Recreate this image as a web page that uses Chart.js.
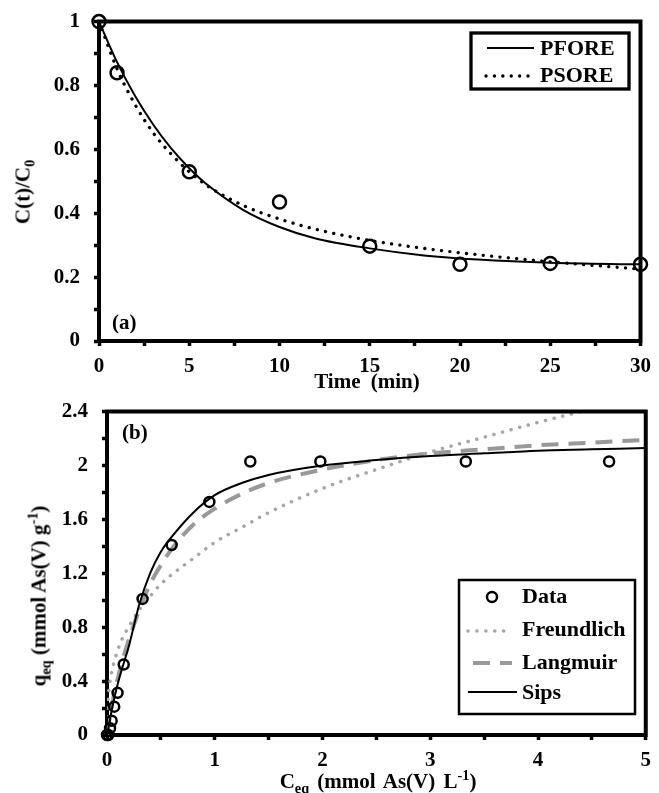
<!DOCTYPE html>
<html>
<head>
<meta charset="utf-8">
<script src="https://cdn.jsdelivr.net/npm/chart.js@4.4.1/dist/chart.umd.min.js"></script>
<style>
  html, body { margin: 0; padding: 0; background: #fff; }
  body { width: 659px; height: 793px; position: relative; overflow: hidden;
         font-family: "Liberation Serif", "Times New Roman", serif; font-weight: bold; }
  canvas { position: absolute; left: 0; }
  #chartA { top: -5px; }
  #chartB { top: 385px; }
  .ttl { position: absolute; font-size: 21px; line-height: 21px; white-space: nowrap; color: #000;
         transform: translate(-50%, -50%); }
  .rot { transform: translate(-50%, -50%) rotate(-90deg); }
  sub, sup { font-size: 0.68em; line-height: 0; }
</style>
</head>
<body>
<canvas id="chartA" width="659" height="405"></canvas>
<canvas id="chartB" width="659" height="408"></canvas>

<div class="ttl rot" style="left:23px; top:192px;">C(t)/C<sub>0</sub></div>
<div class="ttl" style="left:367px; top:381px; word-spacing:5px;">Time (min)</div>
<div class="ttl rot" style="left:39px; top:596px;">q<sub>eq</sub> (mmol As(V) g<sup>-1</sup>)</div>
<div class="ttl" style="left:378px; top:781px; word-spacing:3px;">C<sub>eq</sub> (mmol As(V) L<sup>-1</sup>)</div>

<script>
// ---- panel (a): kinetics ----
const timeMin = [0, 1, 5, 10, 15, 20, 25, 30];
const ctRatio = [1.0, 0.84, 0.53, 0.435, 0.297, 0.24, 0.243, 0.24];

const pforeTime = [0, 1, 2, 3, 4, 5, 6, 8, 10, 12, 15, 18, 21, 25, 30];
const pforeRatio = [1.0, 0.873, 0.767, 0.678, 0.603, 0.541, 0.489, 0.41, 0.357, 0.321, 0.29, 0.268, 0.255, 0.245, 0.24];

const psoreTime = [0, 1, 2, 3, 4, 5, 6, 8, 10, 12, 15, 18, 21, 25, 30];
const psoreRatio = [1.0, 0.852, 0.74, 0.652, 0.585, 0.53, 0.486, 0.424, 0.382, 0.35, 0.315, 0.29, 0.27, 0.248, 0.225];

// ---- panel (b): isotherm ----
const ceq = [0, 0.005, 0.012, 0.028, 0.043, 0.067, 0.098, 0.155, 0.33, 0.6, 0.95, 1.33, 1.98, 3.33, 4.66];
const qeq = [0, 0, 0, 0.05, 0.106, 0.21, 0.313, 0.523, 1.01, 1.41, 1.73, 2.03, 2.03, 2.03, 2.03];

const freuC = [0, 0.002, 0.005, 0.01, 0.02, 0.05, 0.1, 0.15, 0.2, 0.3, 0.4, 0.5, 0.6, 0.8, 1.0, 1.25, 1.5, 2.0, 2.5, 3.0, 3.5, 4.0, 4.5, 5.0];
const freuQ = [0, 0.16, 0.22, 0.28, 0.35, 0.49, 0.63, 0.73, 0.8, 0.93, 1.03, 1.12, 1.19, 1.31, 1.43, 1.54, 1.65, 1.83, 1.97, 2.1, 2.21, 2.32, 2.42, 2.52];

const langC = [0, 0.02, 0.05, 0.1, 0.15, 0.2, 0.3, 0.4, 0.5, 0.6, 0.8, 1.0, 1.25, 1.5, 2.0, 2.5, 3.0, 3.5, 4.0, 4.5, 5.0];
const langQ = [0, 0.1, 0.24, 0.42, 0.57, 0.7, 0.93, 1.12, 1.26, 1.38, 1.56, 1.68, 1.79, 1.87, 1.97, 2.04, 2.09, 2.12, 2.15, 2.17, 2.19];

const sipsC = [0, 0.02, 0.05, 0.1, 0.15, 0.2, 0.3, 0.4, 0.5, 0.6, 0.8, 1.0, 1.25, 1.5, 2.0, 2.5, 3.0, 3.5, 4.0, 4.5, 5.0];
const sipsQ = [0, 0.08, 0.21, 0.38, 0.52, 0.65, 0.97, 1.2, 1.36, 1.47, 1.65, 1.78, 1.87, 1.93, 2.0, 2.04, 2.07, 2.09, 2.11, 2.12, 2.13];

const pts = (xs, ys) => xs.map((x, i) => ({ x: x, y: ys[i] }));

const tickFont = { family: 'Liberation Serif', size: 21, weight: 'bold' };

// frame, panel letter and boxed legend
const boxLegend = {
    id: 'boxLegend',
    afterDraw(chart, args, opts) {
        const ctx = chart.ctx;
        const a = chart.chartArea;
        ctx.save();
        ctx.strokeStyle = '#000';
        ctx.lineWidth = 4;
        ctx.beginPath();
        ctx.moveTo(a.left - 2, a.top);
        ctx.lineTo(a.right, a.top);
        ctx.lineTo(a.right, a.bottom + 2);
        ctx.stroke();

        ctx.fillStyle = '#000';
        ctx.font = 'bold 21px "Liberation Serif"';
        ctx.textBaseline = 'alphabetic';
        ctx.fillText(opts.panel, opts.panelX, opts.panelY);

        ctx.lineWidth = opts.boxLine;
        ctx.strokeRect(opts.box[0], opts.box[1], opts.box[2], opts.box[3]);

        ctx.font = 'bold 22px "Liberation Serif"';
        opts.items.forEach(it => {
            const ds = chart.data.datasets[it.ds];
            ctx.save();
            if (it.marker) {
                ctx.lineWidth = ds.pointBorderWidth;
                ctx.strokeStyle = ds.pointBorderColor;
                ctx.beginPath();
                ctx.arc((it.x1 + it.x2) / 2, it.y, ds.pointRadius, 0, Math.PI * 2);
                ctx.stroke();
            } else {
                ctx.lineWidth = ds.borderWidth;
                ctx.strokeStyle = ds.borderColor;
                ctx.lineCap = ds.borderCapStyle || 'butt';
                ctx.setLineDash(ds.borderDash || []);
                ctx.beginPath();
                ctx.moveTo(it.x1, it.y);
                ctx.lineTo(it.x2, it.y);
                ctx.stroke();
            }
            ctx.restore();
            ctx.fillText(ds.label, it.tx, it.ty);
        });
        ctx.restore();
    }
};

function axis(min, max, step, every, w, h, pad) {
    return {
        type: 'linear', min: min, max: max,
        afterFit: s => { if (w) s.width = w; if (h) s.height = h; },
        border: { display: true, color: '#000', width: 4 },
        grid: { display: true, drawOnChartArea: false, drawTicks: true, tickLength: 5, tickWidth: 3.5, tickColor: '#000' },
        ticks: {
            stepSize: step, autoSkip: false, maxRotation: 0, padding: pad,
            color: '#000', font: tickFont,
            callback: v => {
                const k = Math.round(v / step);
                return k % every === 0 ? String(+v.toFixed(2)) : '';
            }
        }
    };
}

const configA = {
    type: 'scatter',
    data: {
        datasets: [{
            label: 'Data',
            data: pts(timeMin, ctRatio),
            pointRadius: 6.5, pointBorderWidth: 2.5,
            pointBorderColor: '#000', pointBackgroundColor: 'rgba(255,255,255,0)',
            clip: false, order: 0
        }, {
            label: 'PFORE',
            data: pts(pforeTime, pforeRatio),
            showLine: true, pointRadius: 0,
            borderColor: '#000', borderWidth: 2,
            cubicInterpolationMode: 'monotone', order: 1
        }, {
            label: 'PSORE',
            data: pts(psoreTime, psoreRatio),
            showLine: true, pointRadius: 0,
            borderColor: '#000', borderWidth: 3.3,
            borderDash: [0.1, 8.3], borderCapStyle: 'round',
            cubicInterpolationMode: 'monotone', order: 2
        }]
    },
    options: {
        responsive: false, animation: false,
        layout: { padding: { top: 26, right: 16, left: 0, bottom: 0 } },
        scales: {
            x: axis(0, 30, 2.5, 2, 0, 59, 8),
            y: axis(0, 1, 0.1, 2, 99, 0, 14)
        },
        plugins: {
            legend: { display: false },
            tooltip: { enabled: false },
            boxLegend: {
                panel: '(a)', panelX: 112, panelY: 334,
                box: [471, 38, 158, 56], boxLine: 3.3,
                items: [
                    { ds: 1, x1: 487, x2: 534, y: 53, tx: 540, ty: 60 },
                    { ds: 2, x1: 486, x2: 531, y: 81, tx: 540, ty: 87 }
                ]
            }
        }
    },
    plugins: [boxLegend]
};

const configB = {
    type: 'scatter',
    data: {
        datasets: [{
            label: 'Data',
            data: pts(ceq, qeq),
            pointRadius: 5, pointBorderWidth: 2.5,
            pointBorderColor: '#000', pointBackgroundColor: 'rgba(255,255,255,0)',
            clip: false, order: 0
        }, {
            label: 'Freundlich',
            data: pts(freuC, freuQ),
            showLine: true, pointRadius: 0,
            borderColor: '#a6a6a6', borderWidth: 3.5,
            borderDash: [0.1, 8.8], borderCapStyle: 'round',
            cubicInterpolationMode: 'monotone', order: 3
        }, {
            label: 'Langmuir',
            data: pts(langC, langQ),
            showLine: true, pointRadius: 0,
            borderColor: '#999999', borderWidth: 4,
            borderDash: [17, 10],
            cubicInterpolationMode: 'monotone', order: 2
        }, {
            label: 'Sips',
            data: pts(sipsC, sipsQ),
            showLine: true, pointRadius: 0,
            borderColor: '#000', borderWidth: 2,
            cubicInterpolationMode: 'monotone', order: 1
        }]
    },
    options: {
        responsive: false, animation: false,
        layout: { padding: { top: 26, right: 9, left: 0, bottom: 0 } },
        scales: {
            x: axis(0, 5, 0.5, 2, 0, 58, 8),
            y: axis(0, 2.4, 0.2, 2, 107, 0, 14)
        },
        plugins: {
            legend: { display: false },
            tooltip: { enabled: false },
            boxLegend: {
                panel: '(b)', panelX: 122, panelY: 54,
                box: [459, 195, 176, 134], boxLine: 2.5,
                items: [
                    { ds: 0, marker: true, x1: 482, x2: 502, y: 212, tx: 522, ty: 218 },
                    { ds: 1, x1: 468, x2: 510, y: 246, tx: 522, ty: 251 },
                    { ds: 2, x1: 473, x2: 512, y: 278, tx: 522, ty: 284 },
                    { ds: 3, x1: 468, x2: 517, y: 307, tx: 522, ty: 314 }
                ]
            }
        }
    },
    plugins: [boxLegend]
};

new Chart(document.getElementById('chartA'), configA);
new Chart(document.getElementById('chartB'), configB);
</script>
</body>
</html>
